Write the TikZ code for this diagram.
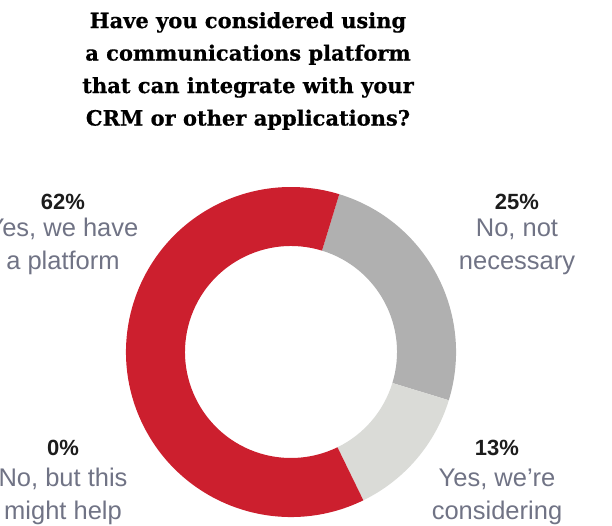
\documentclass[tikz,border=0pt]{standalone}
\usepackage{fontspec}
\usepackage{tikz}
\usepackage{xcolor}
\usetikzlibrary{positioning}
\setmainfont{Liberation Sans}
\newfontfamily\titlefont{DejaVu Serif}[FakeBold=0.6]
\definecolor{yesred}{RGB}{204, 31, 46}
\definecolor{nogray}{RGB}{176, 176, 176}
\definecolor{considergray}{RGB}{218, 219, 215}
\definecolor{labelgray}{RGB}{112, 115, 133}
\definecolor{pctblack}{RGB}{28, 28, 28}

\begin{document}
\begin{tikzpicture}[x=1pt, y=1pt,
    pct/.style={inner sep=0pt, font=\fontsize{22}{26}\selectfont\bfseries, text=pctblack},
    lbl/.style={inner sep=0pt, align=center, font=\fontsize{25.5}{33}\selectfont, text=labelgray}]
    \useasboundingbox (0, 0) rectangle (612, 525);
    
    % Title
    \node[inner sep=0pt, align=center, font=\titlefont\fontsize{21}{32.5}\selectfont\bfseries] (title) at (248, 454)
        {Have you considered using\\a communications platform\\that can integrate with your\\CRM or other applications?};
    
    % Donut
    \begin{scope}[shift={(291, 173)}]
        \fill[nogray] (73:165) arc[start angle=73, end angle=-17, radius=165]
            -- (-17:106) arc[start angle=-17, end angle=73, radius=106] -- cycle;
        \fill[considergray] (-17:165) arc[start angle=-17, end angle=-64, radius=165]
            -- (-64:106) arc[start angle=-64, end angle=-17, radius=106] -- cycle;
        \fill[yesred] (-64:165) arc[start angle=-64, end angle=-287, radius=165]
            -- (73:106) arc[start angle=73, end angle=296, radius=106] -- cycle;
    \end{scope}
    
    % Labels
    \node[pct] (havepct) at (63, 323) {62\%};
    \node[lbl] (have) at (63, 278.5) {Yes, we have\\a platform};
    \node[pct] (notpct) at (517, 323) {25\%};
    \node[lbl] (nonecessary) at (517, 278) {No, not\\necessary};
    \node[pct] (helppct) at (63, 77) {0\%};
    \node[lbl] (mighthelp) at (63, 28.5) {No, but this\\might help};
    \node[pct] (considerpct) at (497, 77) {13\%};
    \node[lbl] (considering) at (497, 28) {Yes, we’re\\considering};
\end{tikzpicture}
\end{document}
